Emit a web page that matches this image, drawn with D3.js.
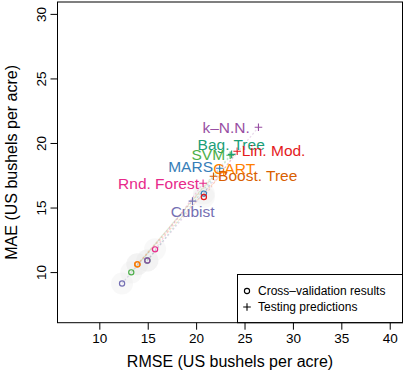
<!DOCTYPE html>
<html>
<head>
<meta charset="utf-8">
<script src="https://cdn.jsdelivr.net/npm/d3@7"></script>
<style>
  body { margin: 0; background: #fff; }
  svg { font-family: "Liberation Sans", Arial, Helvetica, sans-serif; }
</style>
</head>
<body>
<div id="chart"></div>
<script>
// model names and colours
const models = ['k\u2013N.N.', 'Bag. Tree', 'Lin. Mod.', 'SVM', 'MARS', 'CART', 'Boost. Tree', 'Rnd. Forest', 'Cubist'];
const colors = ['#984EA3', '#1B9E77', '#E41A1C', '#4DAF4A', '#377EB8', '#FF7F00', '#D95F02', '#E7298A', '#7570B3'];

// cross-validation results (RMSE, MAE)
const cvRmse = [14.96, 14.96, 20.8, 13.3, 20.8, 13.93, 13.93, 15.76, 12.35];
const cvMae  = [10.9, 10.9, 15.82, 9.98, 16.08, 10.6, 10.6, 11.76, 9.12];

// testing predictions (RMSE, MAE)
const testRmse = [26.44, 23.67, 24.24, 23.52, 22.43, 22.84, 21.79, 20.72, 19.62];
const testMae  = [21.22, 19.12, 19.36, 19.05, 18.04, 17.73, 17.42, 16.88, 15.5];

// where each label sits (data units, text centred there)
const labelRmse = [23.1, 23.62, 28.0, 21.26, 19.43, 23.93, 26.36, 16.12, 19.64];
const labelMae  = [21.24, 19.9, 19.43, 19.12, 18.19, 18.04, 17.5, 16.88, 14.7];

const xTicks = [10, 15, 20, 25, 30, 35, 40];
const yTicks = [10, 15, 20, 25, 30];
const xlim = [7, 40], ylim = [7, 30];

const width = 404, height = 374;
const svg = d3.select('#chart').append('svg')
  .attr('width', width)
  .attr('height', height);

// R style 4% padding on the limits
const padX = (xlim[1] - xlim[0]) * 0.04, padY = (ylim[1] - ylim[0]) * 0.04;
const x = d3.scaleLinear().domain([xlim[0] - padX, xlim[1] + padX]).range([57.5, 402.5]);
const y = d3.scaleLinear().domain([ylim[0] - padY, ylim[1] + padY]).range([322.7, 2]);

// x axis
const xAxis = svg.append('g')
  .attr('transform', 'translate(0,' + y.range()[0] + ')')
  .call(d3.axisBottom(x).tickValues(xTicks).tickSize(7).tickPadding(4).tickFormat(d3.format('d')));
xAxis.select('.domain').remove();
xAxis.selectAll('text').attr('font-size', 13.5).attr('fill', '#000').attr('font-family', null);

// y axis, labels rotated like R
const yAxis = svg.append('g')
  .attr('transform', 'translate(' + x.range()[0] + ',0)')
  .call(d3.axisLeft(y).tickValues(yTicks).tickSize(7).tickFormat(d3.format('d')));
yAxis.select('.domain').remove();
yAxis.selectAll('text')
  .attr('font-size', 13.5).attr('fill', '#000').attr('font-family', null)
  .attr('x', null).attr('dy', null)
  .attr('text-anchor', 'middle')
  .attr('transform', 'translate(-16,0) rotate(-90)')
  .attr('dy', '0.35em');

// axis titles
svg.append('text')
  .attr('x', (x.range()[0] + x.range()[1]) / 2)
  .attr('y', 367)
  .attr('text-anchor', 'middle')
  .attr('font-size', 16)
  .text('RMSE (US bushels per acre)');

svg.append('text')
  .attr('transform', 'translate(17,' + (y.range()[0] + y.range()[1]) / 2 + ') rotate(-90)')
  .attr('text-anchor', 'middle')
  .attr('font-size', 16)
  .text('MAE (US bushels per acre)');

const plot = svg.append('g');
// draw last model first so the earlier ones sit on top
const order = d3.range(models.length).reverse();

// light grey halo under each CV point
plot.selectAll('circle.halo')
  .data(order)
  .enter()
  .append('circle')
  .attr('class', 'halo')
  .attr('cx', i => x(cvRmse[i]))
  .attr('cy', i => y(cvMae[i]))
  .attr('r', 11)
  .attr('fill', '#ececec')
  .attr('fill-opacity', 0.35);

// dashed link from CV point to test point
plot.selectAll('line.link')
  .data(order)
  .enter()
  .append('line')
  .attr('class', 'link')
  .attr('x1', i => x(cvRmse[i]))
  .attr('y1', i => y(cvMae[i]))
  .attr('x2', i => x(testRmse[i]))
  .attr('y2', i => y(testMae[i]))
  .attr('stroke', i => colors[i])
  .attr('stroke-opacity', 0.22)
  .attr('stroke-width', 1.2)
  .attr('stroke-dasharray', '2,2');

// CV circles
plot.selectAll('circle.cv')
  .data(order)
  .enter()
  .append('circle')
  .attr('class', 'cv')
  .attr('cx', i => x(cvRmse[i]))
  .attr('cy', i => y(cvMae[i]))
  .attr('r', 2.6)
  .attr('fill', 'none')
  .attr('stroke', i => colors[i])
  .attr('stroke-width', 1.2);

// test pluses
plot.selectAll('path.test')
  .data(order)
  .enter()
  .append('path')
  .attr('class', 'test')
  .attr('transform', i => 'translate(' + x(testRmse[i]) + ',' + y(testMae[i]) + ')')
  .attr('d', 'M-3.8,0H3.8M0,-3.8V3.8')
  .attr('stroke', i => colors[i])
  .attr('stroke-width', 1.1);

// model labels
plot.selectAll('text.lab')
  .data(models)
  .enter()
  .append('text')
  .attr('class', 'lab')
  .attr('x', (d, i) => x(labelRmse[i]))
  .attr('y', (d, i) => y(labelMae[i]))
  .attr('dy', '0.36em')
  .attr('text-anchor', 'middle')
  .attr('font-size', 15.5)
  .attr('fill', (d, i) => colors[i])
  .text(d => d);

// legend
const lg = svg.append('g');
lg.append('rect')
  .attr('x', 237.5).attr('y', 274.5)
  .attr('width', x.range()[1] - 237.5).attr('height', y.range()[0] - 274.5)
  .attr('fill', '#fff').attr('stroke', '#000');
lg.append('circle')
  .attr('cx', 247).attr('cy', 291).attr('r', 2.6)
  .attr('fill', 'none').attr('stroke', '#000').attr('stroke-width', 1.1);
lg.append('path')
  .attr('d', 'M243.2,307H250.8M247,303.2V310.8')
  .attr('stroke', '#000').attr('stroke-width', 1.1);
lg.selectAll('text')
  .data(['Cross\u2013validation results', 'Testing predictions'])
  .enter()
  .append('text')
  .attr('x', 258)
  .attr('y', (d, i) => 291 + i * 16)
  .attr('dy', '0.36em')
  .attr('font-size', 12)
  .text(d => d);

// plot frame
svg.append('rect')
  .attr('x', x.range()[0]).attr('y', y.range()[1])
  .attr('width', x.range()[1] - x.range()[0])
  .attr('height', y.range()[0] - y.range()[1])
  .attr('fill', 'none').attr('stroke', '#000');
</script>
</body>
</html>
